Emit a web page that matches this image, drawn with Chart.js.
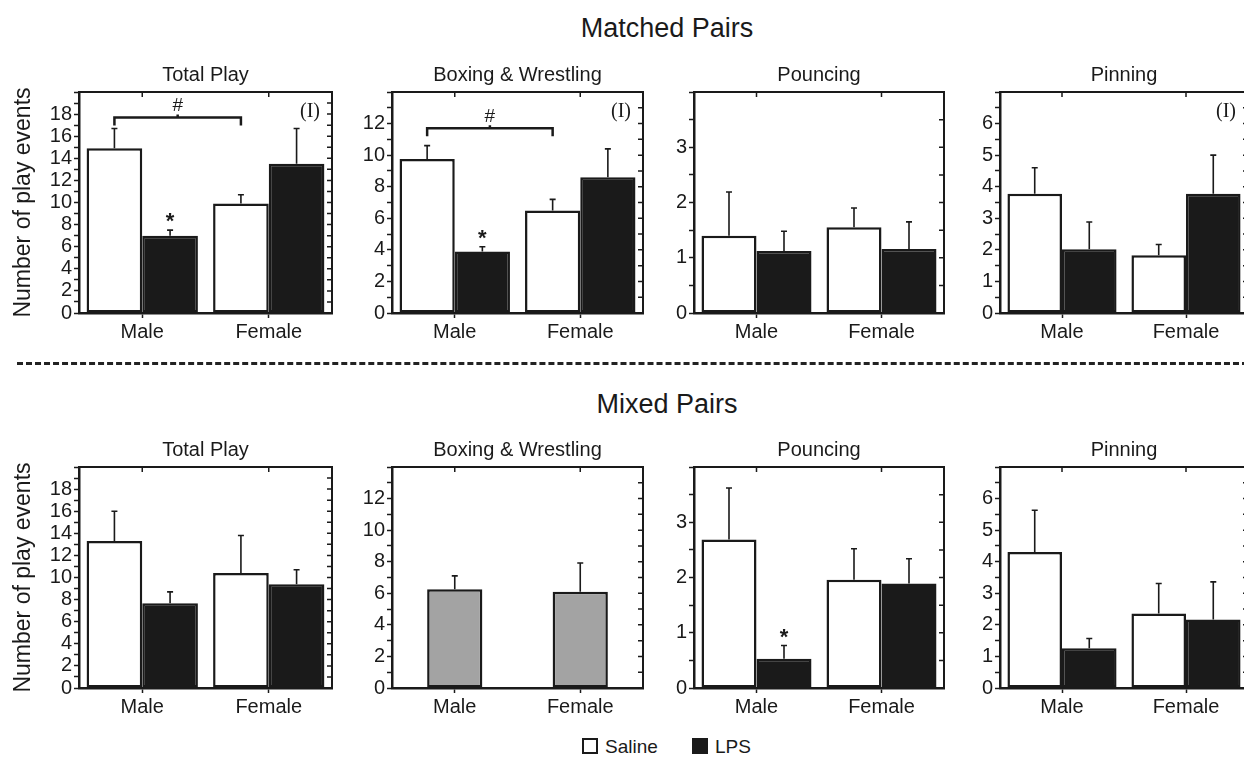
<!DOCTYPE html>
<html>
<head>
<meta charset="utf-8">
<script src="https://cdn.jsdelivr.net/npm/chart.js@4.4.1/dist/chart.umd.min.js"></script>
<style>
body { margin: 0; width: 1244px; height: 761px; overflow: hidden; background: #fff; position: relative; font-family: "Liberation Sans", Arial, sans-serif; color: #1a1a1a; }
.main { position: absolute; left: 0; width: 1334px; text-align: center; font-size: 27px; line-height: 32px; }
.dash { position: absolute; left: 17px; top: 362px; width: 1240px; height: 0; border-top: 3px dashed #222; }
canvas { position: absolute; }
.legend { position: absolute; top: 737px; font-size: 19px; line-height: 20px; }
.box { display: inline-block; width: 12px; height: 12px; border: 2px solid #1a1a1a; vertical-align: -1px; margin-right: 7px; }
</style>
</head>
<body>
<div class="main" style="top:12px">Matched Pairs</div>
<div class="dash"></div>
<div class="main" style="top:388px">Mixed Pairs</div>
<div class="legend" style="left:582px"><span class="box" style="background:#fff"></span>Saline</div>
<div class="legend" style="left:692px"><span class="box" style="background:#1a1a1a"></span>LPS</div>

<canvas id="c1"></canvas><canvas id="c2"></canvas><canvas id="c3"></canvas><canvas id="c4"></canvas>
<canvas id="c5"></canvas><canvas id="c6"></canvas><canvas id="c7"></canvas><canvas id="c8"></canvas>

<script>
var categories = ['Male', 'Female'];
var panelTitles = ['Total Play', 'Boxing & Wrestling', 'Pouncing', 'Pinning'];
var yMax = [20, 14, 4, 7];
var yStep = [1, 1, 0.5, 0.5];
var yLabelStep = [2, 2, 1, 1];

// matched pairs: means and SEM
var matchedTotalSaline = [14.9, 9.9],  matchedTotalSalineErr = [1.8, 0.8];
var matchedTotalLPS    = [7.0, 13.5],  matchedTotalLPSErr    = [0.5, 3.2];
var matchedBoxSaline   = [9.75, 6.5],  matchedBoxSalineErr   = [0.85, 0.7];
var matchedBoxLPS      = [3.9, 8.6],   matchedBoxLPSErr      = [0.3, 1.8];
var matchedPounceSaline = [1.40, 1.55], matchedPounceSalineErr = [0.79, 0.35];
var matchedPounceLPS    = [1.12, 1.16], matchedPounceLPSErr    = [0.36, 0.49];
var matchedPinSaline   = [3.78, 1.83], matchedPinSalineErr   = [0.82, 0.34];
var matchedPinLPS      = [2.02, 3.78], matchedPinLPSErr      = [0.86, 1.22];

// mixed pairs
var mixedTotalSaline = [13.3, 10.4], mixedTotalSalineErr = [2.7, 3.4];
var mixedTotalLPS    = [7.67, 9.4],  mixedTotalLPSErr    = [1.03, 1.3];
var mixedBoxPooled   = [6.25, 6.1],  mixedBoxPooledErr   = [0.85, 1.82];
var mixedPounceSaline = [2.69, 1.96], mixedPounceSalineErr = [0.93, 0.56];
var mixedPounceLPS    = [0.53, 1.89], mixedPounceLPSErr    = [0.24, 0.45];
var mixedPinSaline   = [4.31, 2.36], mixedPinSalineErr   = [1.32, 0.95];
var mixedPinLPS      = [1.26, 2.17], mixedPinLPSErr      = [0.31, 1.19];

// significance marks: star over LPS male, bracket (#) between saline male/female at this level, (I) interaction
var starPanels = [0, 1, 6];
var bracketLevel = {0: 17.7, 1: 11.7};
var interactionPanels = [0, 1, 3];

var FONT = '"Liberation Sans", Arial, sans-serif';
var INK = '#1a1a1a';

var errorBars = {
	id: 'errorBars',
	afterDatasetsDraw: function(chart) {
		var ctx = chart.ctx, y = chart.scales.y;
		ctx.save();
		ctx.strokeStyle = INK;
		ctx.lineWidth = 1.6;
		chart.data.datasets.forEach(function(ds, di) {
			chart.getDatasetMeta(di).data.forEach(function(bar, i) {
				var top = y.getPixelForValue(ds.data[i] + ds.err[i]);
				ctx.beginPath();
				ctx.moveTo(bar.x, bar.y);
				ctx.lineTo(bar.x, top);
				ctx.moveTo(bar.x - 3, top);
				ctx.lineTo(bar.x + 3, top);
				ctx.stroke();
			});
		});
		ctx.restore();
	}
};

var frame = {
	id: 'frame',
	afterDraw: function(chart) {
		var a = chart.chartArea, ctx = chart.ctx, x = chart.scales.x, y = chart.scales.y;
		var p = chart.options.plugins.frame;
		ctx.save();
		ctx.strokeStyle = INK;
		ctx.lineWidth = 2;
		ctx.beginPath();
		ctx.moveTo(a.left, a.top);
		ctx.lineTo(a.right, a.top);
		ctx.lineTo(a.right, a.bottom);
		ctx.stroke();
		ctx.lineWidth = 1.5;
		ctx.beginPath();
		for (var i = 0; i < categories.length; i++) {
			var px = x.getPixelForValue(i);
			ctx.moveTo(px, a.top);
			ctx.lineTo(px, a.top + 5);
		}
		y.ticks.forEach(function(t) {
			var py = y.getPixelForValue(t.value);
			ctx.moveTo(a.right, py);
			ctx.lineTo(a.right - 5, py);
		});
		ctx.stroke();

		ctx.fillStyle = INK;
		ctx.textAlign = 'center';
		ctx.textBaseline = 'middle';
		if (p.star) {
			var ds = chart.data.datasets[1];
			var bar = chart.getDatasetMeta(1).data[0];
			ctx.font = 'bold 22px ' + FONT;
			ctx.fillText('*', bar.x, y.getPixelForValue(ds.data[0] + ds.err[0]) - 8);
		}
		if (p.bracket != null) {
			var b0 = chart.getDatasetMeta(0).data[0], b1 = chart.getDatasetMeta(0).data[1];
			var by = y.getPixelForValue(p.bracket);
			ctx.lineWidth = 2.5;
			ctx.beginPath();
			ctx.moveTo(b0.x, by + 8);
			ctx.lineTo(b0.x, by);
			ctx.lineTo(b1.x, by);
			ctx.lineTo(b1.x, by + 8);
			ctx.moveTo((b0.x + b1.x) / 2, by);
			ctx.lineTo((b0.x + b1.x) / 2, by - 3);
			ctx.stroke();
			ctx.font = '19px ' + FONT;
			ctx.fillText('#', (b0.x + b1.x) / 2, by - 12);
		}
		if (p.inter) {
			ctx.font = '20px "Liberation Serif", "Times New Roman", serif';
			ctx.fillText('(I)', a.right - 22, a.top + 20);
		}
		ctx.restore();
	}
};

function makePanel(id, k, left, top, axisW, datasets, marks, showYTitle) {
	var plotW = [253, 251, 250, 248][k];
	var canvas = document.getElementById(id);
	canvas.width = plotW + axisW + 8;
	canvas.height = 280;
	canvas.style.left = (left - axisW) + 'px';
	canvas.style.top = top + 'px';
	new Chart(canvas, {
		type: 'bar',
		data: { labels: categories, datasets: datasets },
		options: {
			responsive: false,
			animation: false,
			events: [],
			layout: { padding: { top: 0, right: 8, bottom: 0, left: 0 } },
			plugins: {
				legend: { display: false },
				tooltip: { enabled: false },
				title: {
					display: true, text: panelTitles[k], color: INK, fullSize: false,
					font: { family: FONT, size: 20, weight: 'normal' },
					padding: { top: 0, bottom: 5 }
				},
				frame: marks
			},
			scales: {
				x: {
					afterFit: function(s) { s.height = 30; },
					grid: { display: true, drawOnChartArea: false, offset: false, tickLength: 5, color: INK, tickWidth: 1.5 },
					border: { color: INK, width: 2.5 },
					ticks: { color: INK, font: { family: FONT, size: 20 }, padding: 2 }
				},
				y: {
					min: 0, max: yMax[k],
					afterFit: function(s) { s.width = axisW; },
					grid: { display: true, drawOnChartArea: false, tickLength: 5, color: INK, tickWidth: 1.5 },
					border: { color: INK, width: 2.5 },
					title: {
						display: showYTitle, text: 'Number of play events', color: INK,
						font: { family: FONT, size: 23 }, padding: { top: 10, bottom: 0 }
					},
					ticks: {
						stepSize: yStep[k], autoSkip: false, color: INK, padding: 2,
						font: { family: FONT, size: 20 },
						callback: function(v) {
							return (v % yLabelStep[k] === 0 && v < yMax[k]) ? String(v) : '';
						}
					}
				}
			}
		},
		plugins: [errorBars, frame]
	});
}

function pair(saline, salineErr, lps, lpsErr) {
	return [
		{ label: 'Saline', data: saline, err: salineErr, backgroundColor: '#ffffff', borderColor: INK, borderWidth: 2.5, borderSkipped: false, categoryPercentage: 0.88, barPercentage: 1 },
		{ label: 'LPS', data: lps, err: lpsErr, backgroundColor: INK, borderColor: INK, borderWidth: 2.5, borderSkipped: false, categoryPercentage: 0.88, barPercentage: 1 }
	];
}

function marksFor(p) {
	return {
		star: starPanels.indexOf(p) >= 0,
		bracket: bracketLevel[p] != null ? bracketLevel[p] : null,
		inter: interactionPanels.indexOf(p) >= 0
	};
}

var lefts = [79, 392, 694, 1000];

makePanel('c1', 0, lefts[0], 63, 79, pair(matchedTotalSaline, matchedTotalSalineErr, matchedTotalLPS, matchedTotalLPSErr), marksFor(0), true);
makePanel('c2', 1, lefts[1], 63, 50, pair(matchedBoxSaline, matchedBoxSalineErr, matchedBoxLPS, matchedBoxLPSErr), marksFor(1), false);
makePanel('c3', 2, lefts[2], 63, 50, pair(matchedPounceSaline, matchedPounceSalineErr, matchedPounceLPS, matchedPounceLPSErr), marksFor(2), false);
makePanel('c4', 3, lefts[3], 63, 50, pair(matchedPinSaline, matchedPinSalineErr, matchedPinLPS, matchedPinLPSErr), marksFor(3), false);

makePanel('c5', 0, lefts[0], 438, 79, pair(mixedTotalSaline, mixedTotalSalineErr, mixedTotalLPS, mixedTotalLPSErr), marksFor(4), true);
makePanel('c6', 1, lefts[1], 438, 50, [
	{ label: 'Pooled', data: mixedBoxPooled, err: mixedBoxPooledErr, backgroundColor: '#a3a3a3', borderColor: INK, borderWidth: 2.5, borderSkipped: false, categoryPercentage: 0.88, barPercentage: 0.5 }
], marksFor(5), false);
makePanel('c7', 2, lefts[2], 438, 50, pair(mixedPounceSaline, mixedPounceSalineErr, mixedPounceLPS, mixedPounceLPSErr), marksFor(6), false);
makePanel('c8', 3, lefts[3], 438, 50, pair(mixedPinSaline, mixedPinSalineErr, mixedPinLPS, mixedPinLPSErr), marksFor(7), false);
</script>
</body>
</html>
